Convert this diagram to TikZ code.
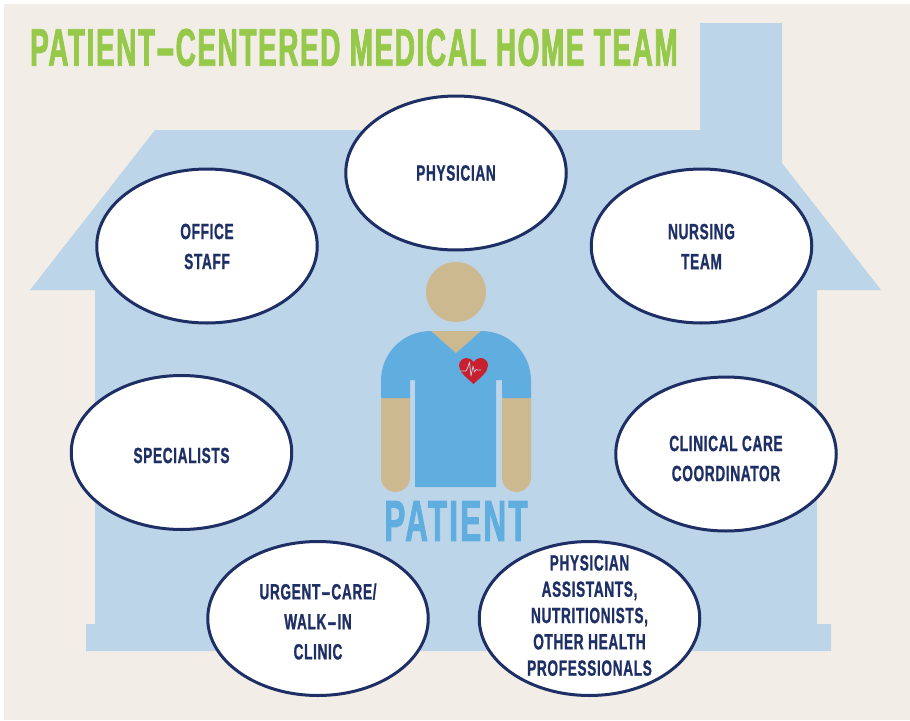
\documentclass[tikz,border=0pt]{standalone}
\usepackage{fontspec}
\usetikzlibrary{shapes.geometric}
\newfontfamily\teamfont[FakeStretch=0.62,LetterSpace=3,FakeBold=1]{Liberation Sans Bold}
\newfontfamily\titlefont[FakeStretch=0.527,LetterSpace=3,FakeBold=1.5]{Liberation Sans Bold}
\newfontfamily\patientfont[FakeStretch=0.54,LetterSpace=4,FakeBold=1.5]{Liberation Sans Bold}
\newcommand{\widehyphen}{\kern1pt\scalebox{2}[1]{-}\kern1pt}
\definecolor{paper}{HTML}{F2EEE7}
\definecolor{houseblue}{HTML}{BDD5E9}
\definecolor{navy}{HTML}{1E2F66}
\definecolor{shirt}{HTML}{60AEE0}
\definecolor{skin}{HTML}{CDB98F}
\definecolor{heartred}{HTML}{C9202F}
\definecolor{titlegreen}{HTML}{96C94A}
\tikzset{
  member/.style={ellipse,draw=navy,line width=3pt,fill=white,minimum width=220.5pt,minimum height=154pt,inner sep=0pt},
  memberlabel/.style={inner sep=0pt,align=center,text=navy,font=\teamfont\fontsize{22}{30}\selectfont},
  tightlabel/.style={memberlabel,font=\teamfont\fontsize{22}{26.3}\selectfont}
}
\begin{document}
\begin{tikzpicture}[x=1pt,y=-1pt]
\useasboundingbox (0,0) rectangle (910,720);
\fill[white] (0,0) rectangle (910,720);
\fill[paper] (4,4) rectangle (910,720);
% house
\fill[houseblue] (700,23) -- (782,23) -- (782,163) -- (881,290) -- (817,290) -- (817,624) -- (831,624) -- (831,651)
  -- (86,651) -- (86,624) -- (95,624) -- (95,290) -- (30,290) -- (155,130) -- (700,130) -- cycle;
\node[anchor=west,inner sep=0pt,text=titlegreen,font=\titlefont\fontsize{53}{53}\selectfont] (title) at (30,47.5) {PATIENT\widehyphen CENTERED MEDICAL HOME TEAM};
% patient figure
\fill[skin] (456,292) circle (30);
\fill[skin] (381,395) -- (381,477.5) .. controls (381,485.5) and (387.5,492) .. (395.5,492) .. controls (403.5,492) and (410,485.5) .. (410,477.5) -- (410,395) -- cycle;
\fill[skin] (502,395) -- (502,477.5) .. controls (502,485.5) and (508.5,492) .. (516.5,492) .. controls (524.5,492) and (531,485.5) .. (531,477.5) -- (531,395) -- cycle;
\fill[shirt] (381,398) -- (381,381) .. controls (381,353) and (403,331) .. (431,331) -- (481,331)
  .. controls (509,331) and (531,353) .. (531,381) -- (531,398) -- (502,398) -- (502,380) -- (496,380) -- (496,487)
  -- (415,487) -- (415,380) -- (410,380) -- (410,398) -- cycle;
\fill[skin] (431,331) -- (481,331) -- (456,353) -- cycle;
% heart
\fill[heartred] (473.5,384) .. controls (466,377) and (459,372) .. (459,365.5) .. controls (459,361) and (463,358) .. (466.5,358)
  .. controls (469.5,358) and (472,359.5) .. (473.5,362) .. controls (475,359.5) and (477.5,358) .. (480.5,358)
  .. controls (484.5,358) and (488,361) .. (488,365.5) .. controls (488,372) and (481,377) .. (473.5,384) -- cycle;
\draw[houseblue,line width=0.7pt,line join=round] (460,371) -- (466,371) -- (468,367) -- (469.5,362) -- (471,376) -- (473,366) -- (474.5,372) -- (476,369.5) -- (477.5,370) -- (481,370);
\node[inner sep=0pt,text=shirt,font=\patientfont\fontsize{58}{58}\selectfont] (patient) at (456,521) {PATIENT};
% team
\node[member,label={[memberlabel,yshift=0pt]center:PHYSICIAN}] (physician) at (456,173) {};
\node[member,label={[memberlabel,yshift=-0.5pt]center:OFFICE\\STAFF}] (office) at (207,246) {};
\node[member,label={[memberlabel,yshift=-0.5pt]center:NURSING\\TEAM}] (nursing) at (701.5,246) {};
\node[member,label={[memberlabel,yshift=-3pt]center:SPECIALISTS}] (specialists) at (181.5,452.5) {};
\node[member,label={[memberlabel,yshift=-4.5pt]center:CLINICAL CARE\\COORDINATOR}] (clinical) at (726,454) {};
\node[member,label={[memberlabel,yshift=-3pt]center:URGENT\widehyphen CARE/\\WALK\widehyphen IN\\CLINIC}] (urgent) at (318,618.5) {};
\node[member,label={[tightlabel,yshift=3pt]center:PHYSICIAN\\ASSISTANTS,\\NUTRITIONISTS,\\OTHER HEALTH\\PROFESSIONALS}] (assistants) at (589.5,618.5) {};
\end{tikzpicture}
\end{document}
